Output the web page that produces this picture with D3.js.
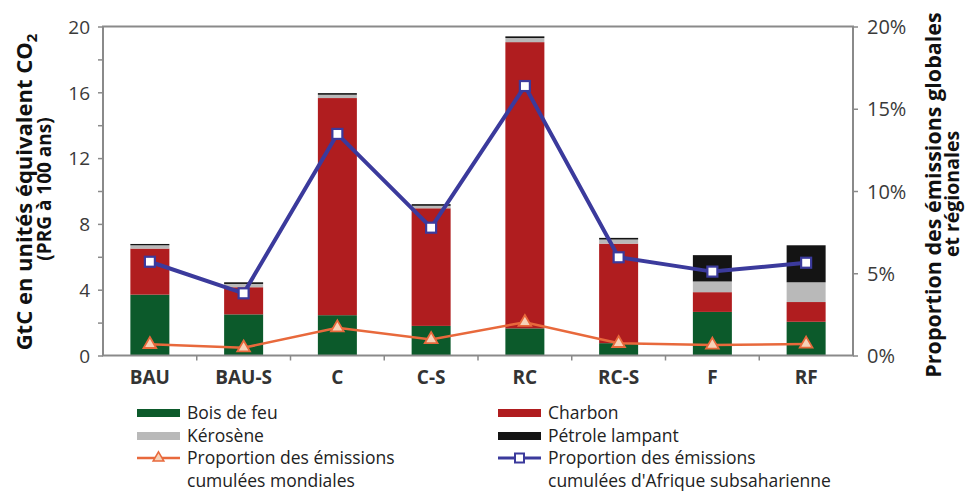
<!DOCTYPE html>
<html><head><meta charset="utf-8">
<script src="https://cdn.jsdelivr.net/npm/d3@7"></script>
<style>
body{margin:0;background:#fff;}
svg{display:block;}
text{font-family:"Open Sans",sans-serif;}
</style></head>
<body><svg id="c" width="966" height="491"></svg>
<script>
const categories = ["BAU","BAU-S","C","C-S","RC","RC-S","F","RF"];
const boisDeFeu = [3.7,2.5,2.45,1.8,1.65,0.75,2.65,2.05];
const charbon = [2.8,1.65,13.2,7.15,17.4,6.05,1.2,1.2];
const kerosene = [0.2,0.2,0.2,0.15,0.25,0.25,0.65,1.2];
const petrole = [0.08,0.1,0.1,0.1,0.1,0.1,1.6,2.25];
const partMondiale = [0.68,0.47,1.69,0.98,2.02,0.74,0.64,0.70];
const partAfrique = [5.7,3.78,13.47,7.77,16.38,5.97,5.1,5.64];
const leftTicks = [0,4,8,12,16,20];
const leftMinor = [0,2,4,6,8,10,12,14,16,18,20];
const rightTicks = [0,5,10,15,20];

const series = [
  {key:"bois", name:"Bois de feu", values:boisDeFeu, color:"#0c5a2b"},
  {key:"charbon", name:"Charbon", values:charbon, color:"#b01d1f"},
  {key:"kero", name:"Kérosène", values:kerosene, color:"#b9b9b9"},
  {key:"petrole", name:"Pétrole lampant", values:petrole, color:"#141414"}
];

const svg = d3.select("#c");
const L=103,R=853,T=26.5,B=355.5;
const x = d3.scaleBand().domain(categories).range([L,R]).paddingInner(0.584).paddingOuter(0.292);
const y = d3.scaleLinear().domain([0,20]).range([B,T]);
const y2 = d3.scaleLinear().domain([0,20]).range([B,T]);

const rows = categories.map((c,i)=>{const o={cat:c}; series.forEach(s=>o[s.key]=s.values[i]); return o;});
const stack = d3.stack().keys(series.map(s=>s.key))(rows);

const g = svg.append("g");
stack.forEach((layer,li)=>{
  g.selectAll(null).data(layer).join("rect")
   .attr("x",d=>x(d.data.cat)).attr("width",x.bandwidth())
   .attr("y",d=>y(d[1])).attr("height",d=>y(d[0])-y(d[1]))
   .attr("fill",series[li].color);
});

// frame
const axisColor="#8a8a8a";
svg.append("rect").attr("x",L).attr("y",T).attr("width",R-L).attr("height",B-T)
  .attr("fill","none").attr("stroke",axisColor).attr("stroke-width",2);

// left axis
const la = svg.append("g").attr("transform",`translate(${L},0)`)
  .call(d3.axisLeft(y).tickValues(leftMinor).tickSize(5).tickFormat(d=>leftTicks.includes(d)?d:""));
la.select(".domain").remove();
la.selectAll("line").attr("stroke",axisColor).attr("stroke-width",1.5);
la.selectAll("text").attr("font-size",19).attr("fill","#3a3a3a").attr("x",-13).attr("dy","0.36em");

// right axis
const ra = svg.append("g").attr("transform",`translate(${R},0)`)
  .call(d3.axisRight(y2).tickValues(rightTicks).tickSize(5).tickFormat(d=>d+"%"));
ra.select(".domain").remove();
ra.selectAll("line").attr("stroke",axisColor).attr("stroke-width",1.5);
ra.selectAll("text").attr("font-size",20).attr("fill","#3a3a3a").attr("x",14).attr("dy","0.36em");

// bottom axis
const step = x.step();
const bounds = d3.range(1,categories.length).map(i=>L+ i*step);
svg.append("g").selectAll("line").data(bounds).join("line")
  .attr("x1",d=>d).attr("x2",d=>d).attr("y1",B).attr("y2",B+5)
  .attr("stroke",axisColor).attr("stroke-width",1.5);
svg.append("g").selectAll("text").data(categories).join("text")
  .attr("x",d=>x(d)+x.bandwidth()/2).attr("y",384)
  .attr("text-anchor","middle").attr("font-family","Liberation Sans, Arial, sans-serif")
  .attr("font-weight","bold").attr("font-size",19).attr("fill","#333").text(d=>d);

// lines
const cx = c=>x(c)+x.bandwidth()/2;
const orange="#e8693c", blue="#3b3a9c";
svg.append("path").datum(partMondiale).attr("fill","none").attr("stroke",orange).attr("stroke-width",2.5)
  .attr("d",d3.line().x((d,i)=>cx(categories[i])).y(d=>y2(d)));
svg.append("g").selectAll("path").data(partMondiale).join("path")
  .attr("transform",(d,i)=>`translate(${cx(categories[i])},${y2(d)})`)
  .attr("d",d3.symbol(d3.symbolTriangle,70))
  .attr("fill","#f6d2b8").attr("stroke",orange).attr("stroke-width",1.8);

svg.append("path").datum(partAfrique).attr("fill","none").attr("stroke",blue).attr("stroke-width",4)
  .attr("d",d3.line().x((d,i)=>cx(categories[i])).y(d=>y2(d)));
svg.append("g").selectAll("rect").data(partAfrique).join("rect")
  .attr("x",(d,i)=>cx(categories[i])-5).attr("y",d=>y2(d)-5).attr("width",10).attr("height",10)
  .attr("fill","#fff").attr("stroke",blue).attr("stroke-width",2.2);

// axis titles
const lt = svg.append("text").attr("transform","translate(32,192) rotate(-90)")
  .attr("text-anchor","middle").attr("font-weight","bold").attr("font-size",22).attr("fill","#111");
lt.append("tspan").text("GtC en unités  équivalent CO");
lt.append("tspan").attr("font-size",15).attr("dy",5).text("2");
svg.append("text").attr("transform","translate(51,189) rotate(-90)")
  .attr("text-anchor","middle").attr("font-weight","bold").attr("font-size",19).attr("fill","#111")
  .text("(PRG à 100 ans)");
svg.append("text").attr("transform","translate(941,195) rotate(-90)")
  .attr("text-anchor","middle").attr("font-weight","bold").attr("font-size",21.5).attr("fill","#111")
  .text("Proportion des émissions globales");
svg.append("text").attr("transform","translate(959,194) rotate(-90)")
  .attr("text-anchor","middle").attr("font-weight","bold").attr("font-size",19.5).attr("fill","#111")
  .text("et régionales");

// legend
const legend = [
  {type:"bar", color:series[0].color, lines:["Bois de feu"], x:137, y:413},
  {type:"bar", color:series[2].color, lines:["Kérosène"], x:137, y:436},
  {type:"tri", color:orange, lines:["Proportion des émissions","cumulées mondiales"], x:137, y:458},
  {type:"bar", color:series[1].color, lines:["Charbon"], x:498, y:413},
  {type:"bar", color:series[3].color, lines:["Pétrole lampant"], x:498, y:436},
  {type:"sq", color:blue, lines:["Proportion des émissions","cumulées d'Afrique subsaharienne"], x:498, y:458}
];
legend.forEach(l=>{
  const lg = svg.append("g");
  if(l.type==="bar"){
    lg.append("rect").attr("x",l.x).attr("y",l.y-4).attr("width",43).attr("height",8).attr("fill",l.color);
  } else if(l.type==="tri"){
    lg.append("line").attr("x1",l.x).attr("x2",l.x+43).attr("y1",l.y).attr("y2",l.y).attr("stroke",l.color).attr("stroke-width",2.5);
    lg.append("path").attr("transform",`translate(${l.x+21.5},${l.y})`).attr("d",d3.symbol(d3.symbolTriangle,50))
      .attr("fill","#f6d2b8").attr("stroke",l.color).attr("stroke-width",1.5);
  } else {
    lg.append("line").attr("x1",l.x).attr("x2",l.x+43).attr("y1",l.y).attr("y2",l.y).attr("stroke",l.color).attr("stroke-width",3);
    lg.append("rect").attr("x",l.x+17).attr("y",l.y-4.5).attr("width",9).attr("height",9)
      .attr("fill","#fff").attr("stroke",l.color).attr("stroke-width",2);
  }
  l.lines.forEach((t,k)=>{
    lg.append("text").attr("x",l.x+50).attr("y",l.y+k*23).attr("dy","0.36em")
      .attr("font-size",17.5).attr("fill","#222").text(t);
  });
});
</script></body></html>
